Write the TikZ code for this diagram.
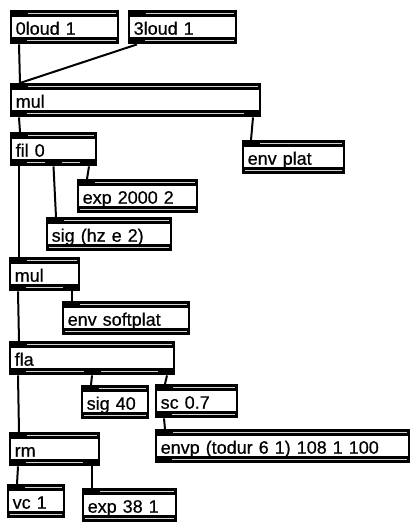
\documentclass[tikz,border=0pt]{standalone}
\usepackage{fontspec}
\setmainfont{Liberation Sans}[FakeBold=0.6]

\begin{document}
\begin{tikzpicture}[x=1pt,y=-1pt,
  obj/.style={draw,line width=2pt,anchor=north west,text width=#1pt,align=left,
    minimum height=32.4pt,inner xsep=4.7pt,inner ysep=0pt,text height=15pt,text depth=0pt,
    font=\fontsize{18}{20}\selectfont,
    path picture={
      \fill (path picture bounding box.north west) rectangle ([yshift=-5.5pt]path picture bounding box.north east);
      \fill ([yshift=6pt]path picture bounding box.south west) rectangle (path picture bounding box.south east);
      \draw[band] ([xshift=17pt,yshift=-2.6pt]path picture bounding box.north west)--([xshift=-2pt,yshift=-2.6pt]path picture bounding box.north east);
      \draw[band] ([xshift=2pt,yshift=2.8pt]path picture bounding box.south west)--([xshift=-2pt,yshift=2.8pt]path picture bounding box.south east);}},
  band/.style={gray!35,line width=1.2pt},
  wire/.style={line width=2pt}]
\useasboundingbox (0,0) rectangle (411,525);
\node[obj=97.6](z0) at (10,10){0loud 1};
\node[obj=97.6](z3) at (128,10){3loud 1};
\node[obj=239.6](mulA) at (10,83){mul};
\node[obj=75.6](fil) at (10,132){fil 0};
\node[obj=91.6](envplat) at (242,140){env plat};
\node[obj=109.6](expA) at (77,179){exp 2000 2};
\node[obj=114.6](sigA) at (46,217){sig (hz e 2)};
\node[obj=59.6](mulB) at (9,257){mul};
\node[obj=116.6](envsoft) at (62,301){env softplat};
\node[obj=154.6](fla) at (9,341){fla};
\node[obj=56.6](sigB) at (81,385){sig 40};
\node[obj=71.6](sc) at (155,384){sc 0.7};
\node[obj=243.6](envp) at (155,429){envp (todur 6 1) 108 1 100};
\node[obj=79.6](rm) at (9,432){rm};
\node[obj=46.6](vc) at (7,484){vc 1};
\node[obj=83.6](expB) at (82,488){exp 38 1};

\foreach \n in {z0,z3,mulA,fil,mulB,fla,sc,envp,rm}
  \fill (\n.south west) rectangle ++(17pt,7pt);
\foreach \n in {mulA,fil,mulB,fla,rm}
  \fill (\n.south east) rectangle ++(-17pt,7pt);
\foreach \n in {fil,fla}
  \fill ([xshift=-8.5pt]\n.south) rectangle ++(17pt,7pt);

\draw[wire]([xshift=9pt]z0.south west)--([xshift=10pt]mulA.north west);
\draw[wire]([xshift=9pt]z3.south west)--([xshift=10pt]mulA.north west);
\draw[wire]([xshift=9pt]mulA.south west)--([xshift=10pt]fil.north west);
\draw[wire]([xshift=-8pt]mulA.south east)--([xshift=9pt]envplat.north west);
\draw[wire]([xshift=9pt]fil.south west)--([xshift=10pt]mulB.north west);
\draw[wire](fil.south)--([xshift=10pt]sigA.north west);
\draw[wire]([xshift=-8pt]fil.south east)--([xshift=10pt]expA.north west);
\draw[wire]([xshift=9pt]mulB.south west)--([xshift=10pt]fla.north west);
\draw[wire]([xshift=-8pt]mulB.south east)--([xshift=10pt]envsoft.north west);
\draw[wire]([xshift=9pt]fla.south west)--([xshift=10pt]rm.north west);
\draw[wire](fla.south)--([xshift=10pt]sigB.north west);
\draw[wire]([xshift=-8pt]fla.south east)--([xshift=10pt]sc.north west);
\draw[wire]([xshift=9pt]sc.south west)--([xshift=10pt]envp.north west);
\draw[wire]([xshift=9pt]rm.south west)--([xshift=10pt]vc.north west);
\draw[wire]([xshift=-8pt]rm.south east)--([xshift=10pt]expB.north west);
\end{tikzpicture}
\end{document}
